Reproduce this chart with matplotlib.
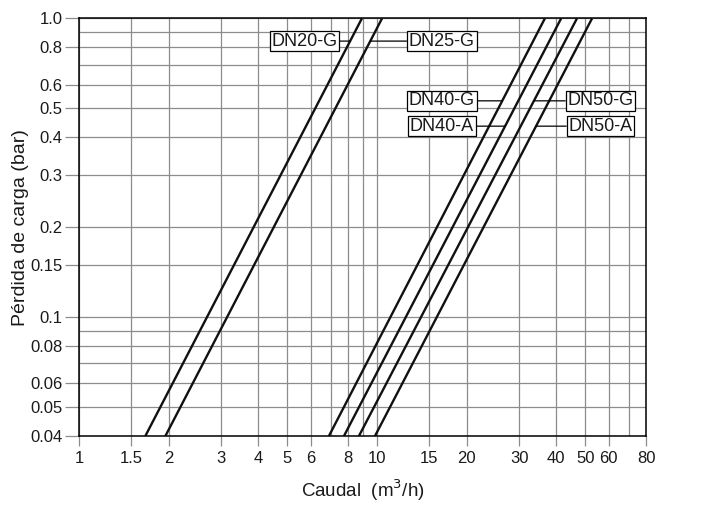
import matplotlib.pyplot as plt
import numpy as np

plt.rcParams['font.family'] = ['Liberation Sans', 'DejaVu Sans']

series = ['DN20-G', 'DN25-G', 'DN40-G', 'DN40-A', 'DN50-G', 'DN50-A']
caudal_min = [1.67, 1.95, 6.90, 7.75, 8.70, 9.85]
caudal_max = [8.9, 10.4, 36.6, 41.5, 46.9, 52.7]
perdida = [0.04, 1.0]

# etiquetas: (posicion del texto x, y)
label_x = [5.71, 16.5, 16.5, 16.5, 56.3, 56.3]
label_y = [0.84, 0.84, 0.53, 0.436, 0.53, 0.436]

x_ticks = [1, 1.5, 2, 3, 4, 5, 6, 8, 10, 15, 20, 30, 40, 50, 60, 80]
x_minor = [7, 9, 70]
y_ticks = [0.04, 0.05, 0.06, 0.08, 0.1, 0.15, 0.2, 0.3, 0.4, 0.5, 0.6, 0.8, 1.0]
y_minor = [0.07, 0.09, 0.7, 0.9]

fig = plt.figure(figsize=(7.14, 5.28), dpi=100)
ax = fig.add_axes([0.1106, 0.1742, 0.7942, 0.7908])
ax.set_xscale('log')
ax.set_yscale('log')
ax.set_xlim(1, 80)
ax.set_ylim(0.04, 1.0)

ax.set_xticks(x_ticks)
ax.set_xticklabels([str(t) for t in x_ticks])
ax.set_xticks(x_minor, minor=True)
ax.set_yticks(y_ticks)
ax.set_yticklabels(['1.0' if t == 1.0 else str(t) for t in y_ticks])
ax.set_yticks(y_minor, minor=True)
ax.set_xticklabels([], minor=True)
ax.set_yticklabels([], minor=True)

grid_col = '#8c8c8c'
ax.grid(True, which='both', color=grid_col, linewidth=0.9)
ax.set_axisbelow(True)
ax.tick_params(axis='x', which='major', length=7, width=0.9, color=grid_col,
               labelsize=12, labelcolor='#1a1a1a', pad=4)
ax.tick_params(axis='y', which='major', length=10, width=0.9, color=grid_col,
               labelsize=12, labelcolor='#1a1a1a', pad=2)
ax.tick_params(which='minor', length=0)
for s in ax.spines.values():
    s.set_linewidth(1.1)
    s.set_color('black')

for i, name in enumerate(series):
    ax.plot([caudal_min[i], caudal_max[i]], perdida, color='#111111',
            linewidth=1.7, solid_capstyle='butt')
    # punto de la curva a la altura de la etiqueta
    lx = 10 ** np.interp(np.log10(label_y[i]), np.log10(perdida),
                         np.log10([caudal_min[i], caudal_max[i]]))
    ax.annotate(name, xy=(lx, label_y[i]), xytext=(label_x[i], label_y[i]),
                ha='center', va='center', fontsize=13, color='#1a1a1a',
                bbox=dict(boxstyle='square,pad=0.1', fc='white', ec='black', lw=0.9),
                arrowprops=dict(arrowstyle='-', color='black', lw=0.9,
                                shrinkA=0, shrinkB=0))

ax.set_xlabel('Caudal  (m$^3$/h)', fontsize=13.5, color='#1a1a1a', labelpad=8)
ax.set_ylabel('Pérdida de carga (bar)', fontsize=14, color='#1a1a1a', labelpad=1)

fig.savefig('out.png', dpi=100)
